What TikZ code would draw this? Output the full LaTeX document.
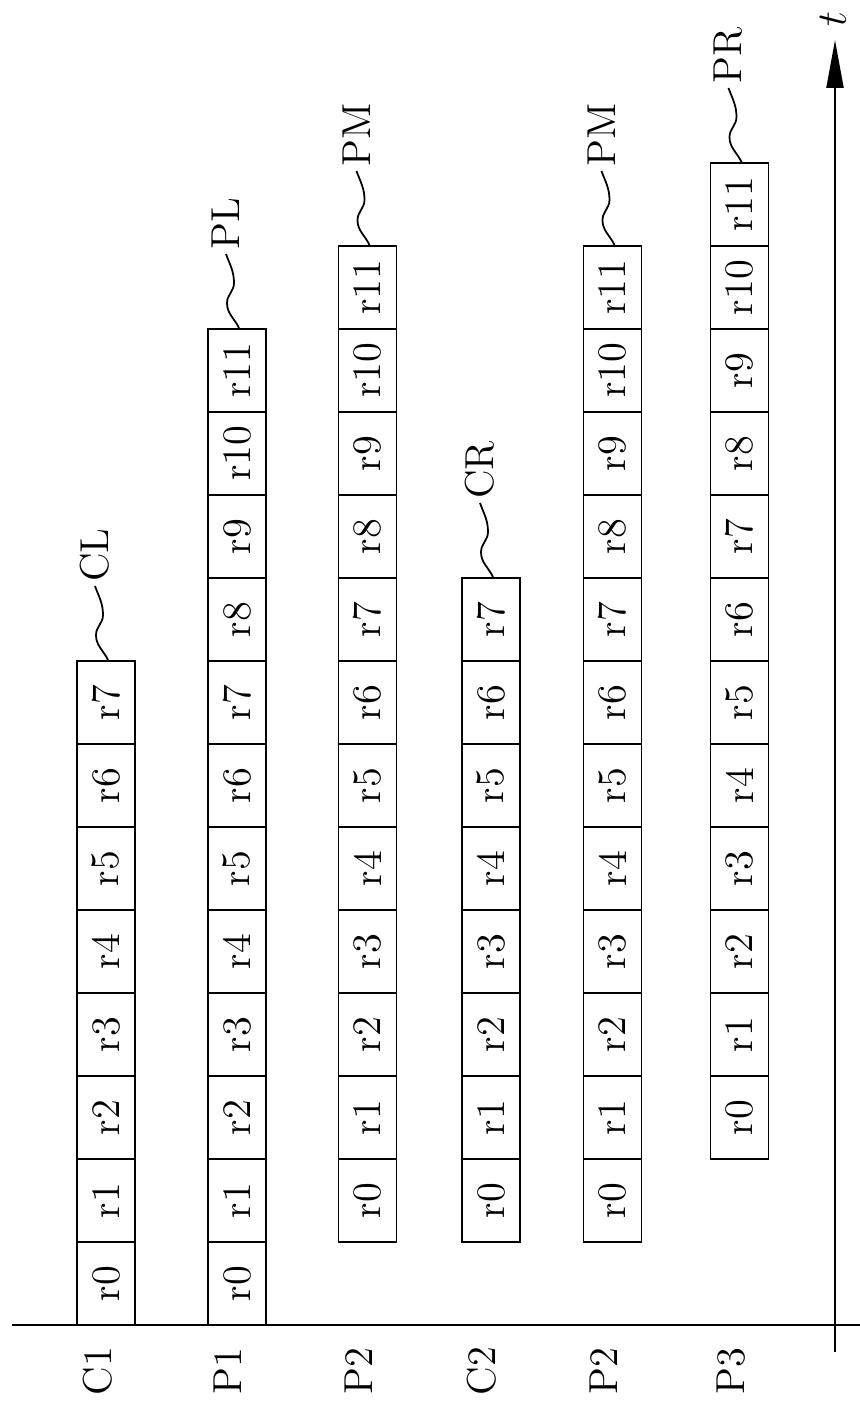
\documentclass[tikz,border=0pt]{standalone}
\usepackage{tikz}
\usetikzlibrary{arrows.meta}

\tikzset{
  cell/.style={draw, line width=0.55pt, rotate=90, minimum width=8.3mm, minimum height=5.8mm,
    inner sep=0pt, font=\fontsize{11.5}{13}\selectfont},
  tag/.style={rotate=90, anchor=west, inner sep=1pt, font=\fontsize{11.5}{13}\selectfont},
  rowname/.style={rotate=90, inner sep=0pt, font=\fontsize{11.5}{13}\selectfont},
  wave/.style={line width=0.5pt}
}

\begin{document}
\begin{tikzpicture}
    \useasboundingbox (0,0) rectangle (8.6,14.02);

    % Time axis
    \draw[line width=0.6pt] (0.12,0.77) -- (8.6,0.77);
    \coordinate (tbase) at (8.35,0.50);
    \node[rotate=90, inner sep=0pt, font=\fontsize{11.5}{13}\selectfont] (t) at (8.33,13.83) {$t$};
    \draw[line width=0.6pt, -{Triangle[length=4.8mm,width=1.7mm]}] (tbase) -- (8.35,13.62);

    % Row names
    \node[rowname] (nC1) at (0.98,0.31) {C1};
    \node[rowname] (nP1) at (2.28,0.31) {P1};
    \node[rowname] (nP2a) at (3.59,0.31) {P2};
    \node[rowname] (nC2) at (4.82,0.31) {C2};
    \node[rowname] (nP2b) at (6.04,0.31) {P2};
    \node[rowname] (nP3) at (7.31,0.31) {P3};

    % C1
    \foreach \i in {0,...,7}
        \node[cell] (cone-\i) at (1.06,{0.77+0.83*(\i+0.5)}) {r\i};
    % P1
    \foreach \i in {0,...,11}
        \node[cell] (pone-\i) at (2.37,{0.77+0.83*(\i+0.5)}) {r\i};
    % P2
    \foreach \i in {0,...,11}
        \node[cell] (ptwoa-\i) at (3.675,{1.60+0.83*(\i+0.5)}) {r\i};
    % C2
    \foreach \i in {0,...,7}
        \node[cell] (ctwo-\i) at (4.91,{1.60+0.83*(\i+0.5)}) {r\i};
    % P2
    \foreach \i in {0,...,11}
        \node[cell] (ptwob-\i) at (6.125,{1.60+0.83*(\i+0.5)}) {r\i};
    % P3
    \foreach \i in {0,...,11}
        \node[cell] (pthree-\i) at (7.395,{2.43+0.83*(\i+0.5)}) {r\i};

    % Tags
    \draw[wave] ([xshift=0.2mm]cone-7.east) to[out=115,in=-90] ++(-0.12,0.25)
        to[out=90,in=-90] ++(0.07,0.2) to[out=90,in=-70] ++(-0.08,0.29) coordinate (clend);
    \node[tag] (cl) at (clend) {CL};

    \draw[wave] ([xshift=0.2mm]pone-11.east) to[out=115,in=-90] ++(-0.12,0.25)
        to[out=90,in=-90] ++(0.07,0.2) to[out=90,in=-70] ++(-0.08,0.29) coordinate (plend);
    \node[tag] (pl) at (plend) {PL};

    \draw[wave] ([xshift=0.2mm]ptwoa-11.east) to[out=115,in=-90] ++(-0.12,0.25)
        to[out=90,in=-90] ++(0.07,0.2) to[out=90,in=-70] ++(-0.08,0.29) coordinate (pmaend);
    \node[tag] (pma) at (pmaend) {PM};

    \draw[wave] ([xshift=0.2mm]ctwo-7.east) to[out=115,in=-90] ++(-0.12,0.25)
        to[out=90,in=-90] ++(0.07,0.2) to[out=90,in=-70] ++(-0.08,0.29) coordinate (crend);
    \node[tag] (cr) at (crend) {CR};

    \draw[wave] ([xshift=0.2mm]ptwob-11.east) to[out=115,in=-90] ++(-0.12,0.25)
        to[out=90,in=-90] ++(0.07,0.2) to[out=90,in=-70] ++(-0.08,0.29) coordinate (pmbend);
    \node[tag] (pmb) at (pmbend) {PM};

    \draw[wave] ([xshift=0.2mm]pthree-11.east) to[out=115,in=-90] ++(-0.12,0.25)
        to[out=90,in=-90] ++(0.07,0.2) to[out=90,in=-70] ++(-0.08,0.29) coordinate (prend);
    \node[tag] (pr) at (prend) {PR};
\end{tikzpicture}
\end{document}
